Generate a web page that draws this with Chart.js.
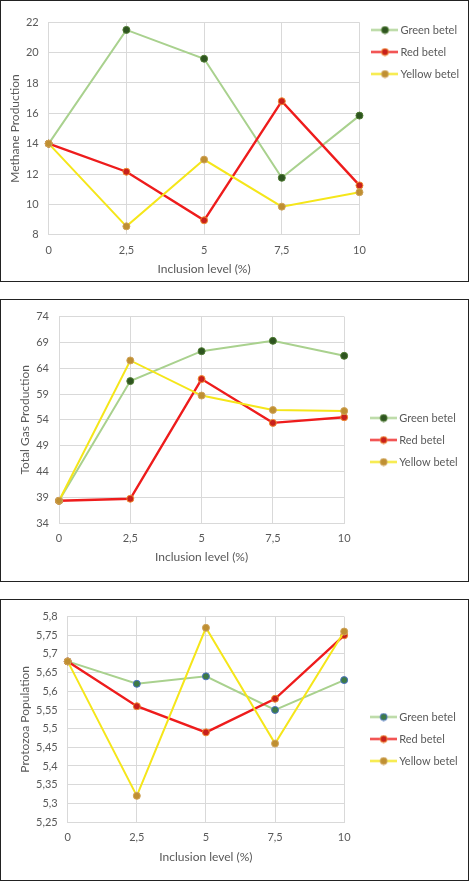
<!DOCTYPE html>
<html>
<head>
<meta charset="utf-8">
<script src="https://cdn.jsdelivr.net/npm/chart.js@4/dist/chart.umd.min.js"></script>
<style>
  body { margin: 0; background: #fff; width: 469px; height: 881px; position: relative; font-family: Lato, sans-serif; }
  .box { position: absolute; left: 0; width: 467px; border: 1px solid #222; background: #fff; }
  .box canvas { display: block; }
</style>
</head>
<body>
<div class="box" id="box1" style="top:0;height:280px"><canvas id="c1"></canvas></div>
<div class="box" id="box2" style="top:299px;height:281px"><canvas id="c2"></canvas></div>
<div class="box" id="box3" style="top:599px;height:280px"><canvas id="c3"></canvas></div>
<script>
// 세 그림 공통: 첨가 수준(%) × 3종 betel
const xLabels = ['0', '2,5', '5', '7,5', '10'];
const seriesNames = ['Green betel', 'Red betel', 'Yellow betel'];

// 메탄 생성량
const methaneGreen  = [14, 21.5, 19.6, 11.75, 15.85];
const methaneRed    = [14, 12.15, 8.95, 16.8, 11.25];
const methaneYellow = [14, 8.55, 12.95, 9.85, 10.8];

// 총 가스 생성량
const gasGreen  = [38.3, 61.5, 67.3, 69.3, 66.4];
const gasRed    = [38.3, 38.7, 61.9, 53.4, 54.5];
const gasYellow = [38.3, 65.5, 58.7, 55.9, 55.7];

// 원충 개체수
const protoGreen  = [5.68, 5.62, 5.64, 5.55, 5.63];
const protoRed    = [5.68, 5.56, 5.49, 5.58, 5.75];
const protoYellow = [5.68, 5.32, 5.77, 5.46, 5.76];

const TXT = '#595959';
const GRID = '#d9d9d9';
const FONT = 'Lato, "Open Sans", sans-serif';

// 선 색 / 마커 채움 / 마커 테두리
const STYLE = [
  { line: '#a9d18e', fill: '#2e5420', edge: '#4e7a32' },
  { line: '#ee1c1c', fill: '#c8201c', edge: '#f0892f' },
  { line: '#f5e61a', fill: '#bf8f32', edge: '#cfa35a' },
];

// 범례 기호: 선 + 가운데 동그라미 (엑셀 스타일)
function legendIcon(s) {
  const c = document.createElement('canvas');
  c.width = 27; c.height = 9;
  const g = c.getContext('2d');
  g.strokeStyle = s.line; g.lineWidth = 2;
  g.beginPath(); g.moveTo(0, 4.5); g.lineTo(27, 4.5); g.stroke();
  g.beginPath(); g.arc(13.5, 4.5, 3.5, 0, Math.PI * 2);
  g.fillStyle = s.fill; g.fill();
  g.strokeStyle = s.edge; g.lineWidth = 1; g.stroke();
  return c;
}

// 범례 위치 미세 조정 (layout 직후, 그리기 전)
const legendNudge = {
  id: 'legendNudge',
  afterLayout(chart, args, opts) {
    const lg = chart.legend;
    if (!lg) return;
    const dx = opts.x || 0, dy = opts.y || 0;
    lg.left += dx; lg.right += dx;
    lg.top += dy;  lg.bottom += dy;
  }
};

const comma = v => String(Number(v.toFixed(2))).replace('.', ',');

function makeChart(id, cfg) {
  const icons = cfg.styles.map(legendIcon);
  const datasets = cfg.series.map((data, i) => ({
    label: seriesNames[i],
    data,
    order: 3 - i,
    borderColor: cfg.styles[i].line,
    borderWidth: i === 1 ? 2.4 : 2,
    pointRadius: 3.5,
    pointHoverRadius: 3.5,
    pointBackgroundColor: cfg.styles[i].fill,
    pointBorderColor: cfg.styles[i].edge,
    pointBorderWidth: 1,
    tension: 0,
    fill: false,
  }));

  return new Chart(document.getElementById(id), {
    type: 'line',
    data: { labels: xLabels, datasets },
    plugins: [legendNudge],
    options: {
      responsive: true,
      maintainAspectRatio: false,
      animation: false,
      layout: { padding: { top: cfg.top, right: cfg.padRight, bottom: 0, left: 0 } },
      plugins: {
        tooltip: { enabled: false },
        legendNudge: { x: cfg.legendX, y: cfg.legendY },
        legend: {
          position: 'right',
          align: 'start',
          labels: {
            usePointStyle: true,
            pointStyleWidth: 20,
            padding: 11,
            color: TXT,
            font: { family: FONT, size: 11 },
            sort: (a, b) => a.datasetIndex - b.datasetIndex,
            generateLabels: chart =>
              Chart.defaults.plugins.legend.labels.generateLabels(chart)
                .map(l => ({ ...l, pointStyle: icons[l.datasetIndex] })),
          }
        }
      },
      scales: {
        x: {
          offset: false,
          grid: { color: GRID, drawTicks: false },
          border: { color: GRID },
          ticks: { color: TXT, padding: 9, maxRotation: 0, font: { family: FONT, size: 11 } },
          title: { display: true, text: 'Inclusion level (%)', color: TXT,
                   font: { family: FONT, size: 12 }, padding: { top: 0, bottom: cfg.xTitlePad } },
          afterFit: s => { s.height = cfg.xHeight; },
        },
        y: {
          min: cfg.yMin, max: cfg.yMax,
          grid: { color: GRID, drawTicks: false },
          border: { color: GRID },
          ticks: { stepSize: cfg.yStep, color: TXT, padding: 10, callback: comma,
                   font: { family: FONT, size: 11 } },
          title: { display: true, text: cfg.yTitle, color: TXT,
                   font: { family: FONT, size: 12 }, padding: { top: cfg.yTitlePad, bottom: 0 } },
          afterFit: s => { s.width = cfg.yWidth; },
        }
      }
    }
  });
}

makeChart('c1', {
  series: [methaneGreen, methaneRed, methaneYellow],
  styles: STYLE,
  yTitle: 'Methane Production', yMin: 8, yMax: 22, yStep: 2,
  top: 21.3, yWidth: 47.7, xHeight: 46.3, padRight: 3.5,
  yTitlePad: 6.5, xTitlePad: 4.8, legendX: 4.5, legendY: -8.8,
});

makeChart('c2', {
  series: [gasGreen, gasRed, gasYellow],
  styles: STYLE,
  yTitle: 'Total Gas Production', yMin: 34, yMax: 74, yStep: 5,
  top: 14.3, yWidth: 58, xHeight: 58, padRight: 18.8,
  yTitlePad: 17, xTitlePad: 16.8, legendX: 18.5, legendY: 87.2,
});

makeChart('c3', {
  series: [protoGreen, protoRed, protoYellow],
  styles: [{ line: '#a9d18e', fill: '#3d7a45', edge: '#4a72c4' }, STYLE[1], STYLE[2]],
  yTitle: 'Protozoa Population', yMin: 5.25, yMax: 5.8, yStep: 0.05,
  top: 13.3, yWidth: 66.7, xHeight: 58, padRight: 18.8,
  yTitlePad: 17, xTitlePad: 16.1, legendX: 18.5, legendY: 87.2,
});
</script>
</body>
</html>
